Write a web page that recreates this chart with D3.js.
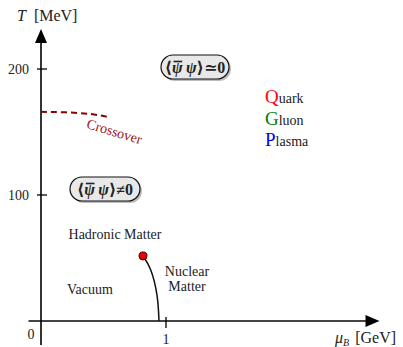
<!DOCTYPE html>
<html>
<head>
<meta charset="utf-8">
<script src="https://d3js.org/d3.v7.min.js"></script>
<style>
  body { margin: 0; background: #fff; }
  svg text { font-family: "Liberation Serif", "DejaVu Serif", serif; fill: #222; }
</style>
</head>
<body>
<div id="chart"></div>
<script>
var width = 403,
    height = 347;

// data
var yTicks = [100, 200];
var xTicks = [1];
var crossover = [[0, 166], [0.2, 165.6], [0.4, 164.2], [0.55, 161.7]];
var nuclearLine = [[0.816, 51.6], [0.878, 40.5], [0.928, 20.6], [0.944, 0]];
var criticalPoint = [0.816, 51.6];
var qgpWords = [["Q", "uark", "red"], ["G", "luon", "green"], ["P", "lasma", "blue"]];

var x = d3.scaleLinear().domain([0, 1]).range([41, 166]);
var y = d3.scaleLinear().domain([0, 200]).range([321, 69]);

var svg = d3.select("#chart")
            .append("svg")
            .attr("width", width)
            .attr("height", height);

// axes
svg.append("line")
   .attr("x1", x(-0.1)).attr("x2", x(2.6))
   .attr("y1", y(0)).attr("y2", y(0))
   .attr("stroke", "#444").attr("stroke-width", 2);
svg.append("path")
   .attr("d", "M" + (x(2.7) + 1) + "," + y(0) + " l-14,-6 l0,12 Z")
   .attr("fill", "#000");

svg.append("line")
   .attr("x1", x(0)).attr("x2", x(0))
   .attr("y1", y(-19)).attr("y2", y(225))
   .attr("stroke", "#000").attr("stroke-width", 1.6);
svg.append("path")
   .attr("d", "M" + x(0) + "," + (y(231) - 1) + " l-6,14 l12,0 Z")
   .attr("fill", "#000");

svg.selectAll(".ytick")
   .data(yTicks).enter()
   .append("line")
   .attr("x1", x(0) - 4).attr("x2", x(0) + 6)
   .attr("y1", d => y(d)).attr("y2", d => y(d))
   .attr("stroke", "#000").attr("stroke-width", 1.3);
svg.selectAll(".ylab")
   .data(yTicks).enter()
   .append("text")
   .attr("x", x(0) - 12).attr("y", d => y(d) + 5)
   .attr("text-anchor", "end")
   .style("font-size", "14px")
   .text(d => d);

svg.selectAll(".xtick")
   .data(xTicks).enter()
   .append("line")
   .attr("x1", d => x(d)).attr("x2", d => x(d))
   .attr("y1", y(0) - 4).attr("y2", y(0) + 7)
   .attr("stroke", "#000").attr("stroke-width", 1.3);
svg.selectAll(".xlab")
   .data(xTicks).enter()
   .append("text")
   .attr("x", d => x(d)).attr("y", 344)
   .attr("text-anchor", "middle")
   .style("font-size", "14px")
   .text(d => d);

svg.append("text").attr("x", 31).attr("y", 339)
   .attr("text-anchor", "middle").style("font-size", "14px").text("0");

// axis titles
var tl = svg.append("text").attr("x", 17).attr("y", 21).style("font-size", "16px");
tl.append("tspan").style("font-style", "italic").text("T");
tl.append("tspan").attr("dx", 8).text("[MeV]");

var xl = svg.append("text").attr("x", 335).attr("y", 343).style("font-size", "16px");
xl.append("tspan").style("font-style", "italic").text("\u03BC");
xl.append("tspan").attr("dy", 3).style("font-size", "10px").style("font-style", "italic").text("B");
xl.append("tspan").attr("dy", -3).attr("dx", 6).text("[GeV]");

// crossover line
var line = d3.line().x(d => x(d[0])).y(d => y(d[1])).curve(d3.curveNatural);
svg.append("path")
   .attr("d", line(crossover))
   .attr("fill", "none")
   .attr("stroke", "#8b0000")
   .attr("stroke-width", 2)
   .attr("stroke-dasharray", "6,4");
svg.append("text")
   .attr("transform", "translate(113,136) rotate(17)")
   .attr("text-anchor", "middle")
   .style("font-size", "14px")
   .style("fill", "#9b1515")
   .text("Crossover");

// nuclear liquid-gas line + critical point
svg.append("path")
   .attr("d", line(nuclearLine))
   .attr("fill", "none")
   .attr("stroke", "#111")
   .attr("stroke-width", 1.5);
svg.append("circle")
   .attr("cx", x(criticalPoint[0])).attr("cy", y(criticalPoint[1]))
   .attr("r", 4)
   .attr("fill", "#e00")
   .attr("stroke", "#400").attr("stroke-width", 1);

// labels
function label(tx, ty, s) {
  svg.append("text").attr("x", tx).attr("y", ty)
     .attr("text-anchor", "middle").style("font-size", "14px").text(s);
}
label(115, 239, "Hadronic Matter");
label(90, 294, "Vacuum");
label(187, 276, "Nuclear");
label(187, 291, "Matter");

// condensate boxes
function condBox(cx, cy, w, h, rel) {
  var g = svg.append("g").attr("transform", "translate(" + cx + "," + cy + ")");
  g.append("rect").attr("x", -w / 2 + 2).attr("y", -h / 2 + 2)
   .attr("width", w).attr("height", h).attr("rx", h / 2)
   .attr("fill", "#aaa").attr("opacity", 0.8);
  g.append("rect").attr("x", -w / 2).attr("y", -h / 2)
   .attr("width", w).attr("height", h).attr("rx", h / 2)
   .attr("fill", "#e8e8e8").attr("stroke", "#111").attr("stroke-width", 1.2);
  var t = g.append("text").attr("text-anchor", "middle").attr("y", 5.5)
   .style("font-size", "16px").style("font-weight", "bold");
  t.append("tspan").text("\u27E8");
  t.append("tspan").style("font-style", "italic").text("\u03C8\u2009\u03C8");
  t.append("tspan").text("\u27E9" + rel + "0");
  var ext = t.node().getExtentOfChar(1);
  g.append("line")
   .attr("x1", ext.x + 1.5).attr("x2", ext.x + ext.width - 0.5)
   .attr("y1", ext.y + 3).attr("y2", ext.y + 3)
   .attr("stroke", "#222").attr("stroke-width", 1.6);
}
condBox(195, 67, 68, 24, "\u2243");
condBox(105, 189, 70, 24, "\u2260");

// QGP
qgpWords.forEach(function(w, i) {
  var t = svg.append("text").attr("x", 265).attr("y", 103 + i * 21.5);
  t.append("tspan").style("font-size", "19px").style("fill", w[2]).text(w[0]);
  t.append("tspan").style("font-size", "14px").text(w[1]);
});
</script>
</body>
</html>
